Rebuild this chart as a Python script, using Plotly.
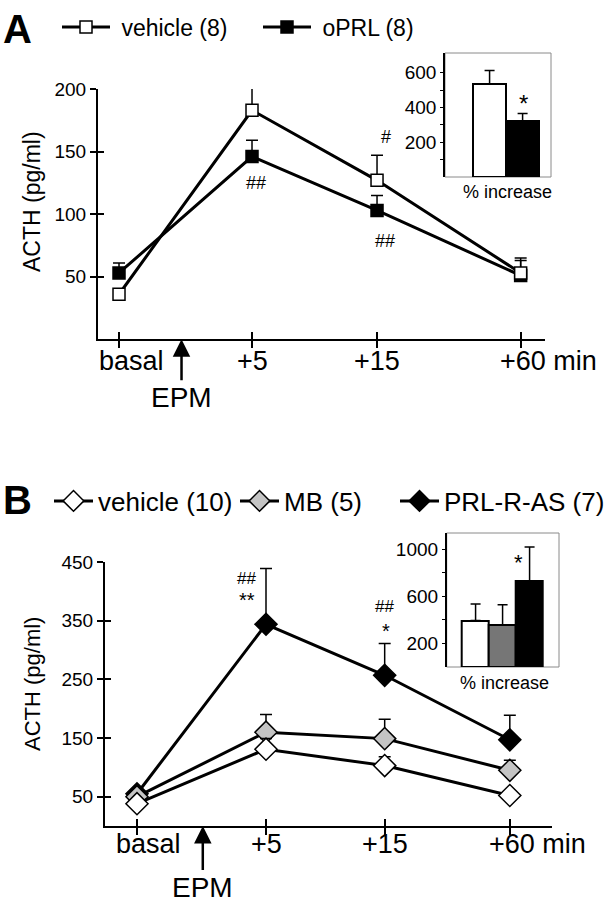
import plotly.graph_objects as go

W, H = 606, 899
FONT = "Liberation Sans, Arial, sans-serif"

# ---------------- data ----------------
time_labels = ["basal", "+5", "+15", "+60 min"]

# Panel A
a_time_pos = [0, 1, 1.94, 3.02]
a_vehicle = [36, 183, 127, 53]
a_vehicle_se = [4, 26, 20, 12]
a_oprl = [53, 146, 103, 51]
a_oprl_se = [8, 13, 12, 12]
a_pct_groups = ["vehicle", "oPRL"]
a_pct = [535, 320]
a_pct_se = [78, 45]

# Panel B
b_time_pos = [0, 1, 1.92, 2.89]
b_vehicle = [38, 131, 103, 52]
b_vehicle_se = [4, 18, 15, 5]
b_mb = [50, 160, 149, 95]
b_mb_se = [5, 30, 33, 17]
b_as = [55, 344, 257, 147]
b_as_se = [6, 95, 54, 42]
b_pct_groups = ["vehicle", "MB", "PRL-R-AS"]
b_pct = [395, 355, 730]
b_pct_se = [140, 175, 290]

MB_MARK = "#c4c4c4"
MB_BAR = "#767676"
NB = "\u00a0"


def px_x(p):
    return p / W


def px_y(p):
    return 1 - p / H


fig = go.Figure()


def err(se, w=6):
    return dict(type="data", array=se, arrayminus=[0] * len(se), symmetric=False,
                color="black", thickness=1.5, width=w)


def line_trace(x, y, se, name, symbol, fill, size, xa, ya, legend):
    return go.Scatter(
        x=x, y=y, name=name, mode="lines+markers",
        line=dict(color="black", width=3),
        marker=dict(symbol=symbol, size=size, color=fill, line=dict(color="black", width=1.5)),
        error_y=err(se), xaxis=xa, yaxis=ya, legend=legend, showlegend=True,
        cliponaxis=False,
    )


# Panel A main
fig.add_trace(line_trace(a_time_pos, a_oprl, a_oprl_se, NB + "oPRL (8)", "square", "black", 12, "x", "y", "legend2"))
fig.add_trace(line_trace(a_time_pos, a_vehicle, a_vehicle_se, NB + "vehicle (8)", "square", "white", 12, "x", "y", "legend"))

# Panel B main
fig.add_trace(line_trace(b_time_pos, b_as, b_as_se, "PRL-R-AS (7)", "diamond", "black", 17, "x2", "y2", "legend5"))
fig.add_trace(line_trace(b_time_pos, b_mb, b_mb_se, "MB (5)", "diamond", MB_MARK, 17, "x2", "y2", "legend4"))
fig.add_trace(line_trace(b_time_pos, b_vehicle, b_vehicle_se, "vehicle (10)", "diamond", "white", 17, "x2", "y2", "legend3"))

# Insets
fig.add_trace(go.Bar(x=a_pct_groups, y=a_pct, marker=dict(color=["white", "black"], line=dict(color="black", width=2)),
                     error_y=err(a_pct_se, 5), width=1, xaxis="x3", yaxis="y3", showlegend=False))
fig.add_trace(go.Bar(x=b_pct_groups, y=b_pct, marker=dict(color=["white", MB_BAR, "black"], line=dict(color="black", width=2)),
                     error_y=err(b_pct_se, 5), width=1, xaxis="x4", yaxis="y4", showlegend=False))

# empty traces for overlay (crossing ticks) axes
fig.add_trace(go.Scatter(x=[], y=[], xaxis="x5", yaxis="y5", showlegend=False))
fig.add_trace(go.Scatter(x=[], y=[], xaxis="x6", yaxis="y6", showlegend=False))

axis_common = dict(showgrid=False, zeroline=False, color="black",
                   tickfont=dict(family=FONT, size=19, color="black"))

a_xrange = [-0.158, 3.203]
b_xrange = [-0.248, 3.217]
a_yrange = [0, 200]
b_yrange = [0, 450]

a_xdom = [px_x(98), px_x(545)]
a_ydom = [px_y(339.3), px_y(89)]
b_xdom = [px_x(105), px_x(552)]
b_ydom = [px_y(826), px_y(562.1)]

fig.update_layout(
    width=W, height=H, margin=dict(l=0, r=0, t=0, b=0, autoexpand=False),
    paper_bgcolor="white", plot_bgcolor="rgba(0,0,0,0)",
    font=dict(family=FONT, color="black"),
    barmode="group", bargap=0,
    xaxis=dict(domain=a_xdom, range=a_xrange, anchor="y", showline=True, linewidth=2, linecolor="black",
               tickvals=a_time_pos, ticks="outside", ticklen=7, tickwidth=1.5, showticklabels=False, **axis_common),
    yaxis=dict(domain=a_ydom, range=a_yrange, anchor="x", showline=True, linewidth=2, linecolor="black",
               tickvals=[50, 100, 150, 200], ticks="outside", ticklen=6, tickwidth=1.5, **axis_common),
    xaxis2=dict(domain=b_xdom, range=b_xrange, anchor="y2", showline=True, linewidth=2, linecolor="black",
                tickvals=b_time_pos, ticks="outside", ticklen=7, tickwidth=1.5, showticklabels=False, **axis_common),
    yaxis2=dict(domain=b_ydom, range=b_yrange, anchor="x2", showline=True, linewidth=2, linecolor="black",
                tickvals=[50, 150, 250, 350, 450], ticks="outside", ticklen=6, tickwidth=1.5, **axis_common),
    # crossing-tick overlays
    xaxis5=dict(overlaying="x", anchor="y5", range=a_xrange, tickvals=a_time_pos, ticks="inside", ticklen=7,
                tickwidth=1.5, showticklabels=False, showline=False, showgrid=False, zeroline=False, tickcolor="black"),
    yaxis5=dict(overlaying="y", anchor="x5", range=a_yrange, tickvals=[50, 100, 150, 200], ticks="inside", ticklen=6,
                tickwidth=1.5, showticklabels=False, showline=False, showgrid=False, zeroline=False, tickcolor="black"),
    xaxis6=dict(overlaying="x2", anchor="y6", range=b_xrange, tickvals=b_time_pos, ticks="inside", ticklen=7,
                tickwidth=1.5, showticklabels=False, showline=False, showgrid=False, zeroline=False, tickcolor="black"),
    yaxis6=dict(overlaying="y2", anchor="x6", range=b_yrange, tickvals=[50, 150, 250, 350, 450], ticks="inside", ticklen=6,
                tickwidth=1.5, showticklabels=False, showline=False, showgrid=False, zeroline=False, tickcolor="black"),
    # insets
    xaxis3=dict(domain=[px_x(445), px_x(551)], range=[-1.35, 1.86], anchor="y3", showticklabels=False,
                showline=False, ticks="", showgrid=False, zeroline=False),
    yaxis3=dict(domain=[px_y(177), px_y(53)], range=[0, 713], anchor="x3", showline=True, linewidth=1.5,
                linecolor="black", tickvals=[200, 400, 600], ticks="outside", ticklen=3, tickwidth=1,
                minor=dict(tickvals=[100, 300, 500], ticks="outside", ticklen=3, tickwidth=1, tickcolor="black"),
                **axis_common),
    xaxis4=dict(domain=[px_x(446.7), px_x(559)], range=[-1.07, 3.09], anchor="y4", showticklabels=False,
                showline=False, ticks="", showgrid=False, zeroline=False),
    yaxis4=dict(domain=[px_y(667), px_y(533)], range=[0, 1140], anchor="x4", showline=True, linewidth=1.5,
                linecolor="black", tickvals=[200, 600, 1000], ticks="outside", ticklen=3, tickwidth=1,
                minor=dict(tickvals=[400, 800], ticks="outside", ticklen=3, tickwidth=1, tickcolor="black"),
                **axis_common),
)


def leg(xpx, ypx, size, itemw):
    return dict(x=px_x(xpx), y=px_y(ypx), xanchor="left", yanchor="middle", orientation="h",
                bgcolor="rgba(0,0,0,0)", borderwidth=0, itemwidth=itemw,
                font=dict(family=FONT, size=size, color="black"))


fig.update_layout(
    legend=leg(57, 27, 23, 48),
    legend2=leg(258, 27, 23, 48),
    legend3=leg(49, 501, 26, 39),
    legend4=leg(235, 501, 26, 39),
    legend5=leg(395, 501, 26, 39),
)

# inset frames
for xa in ["x3", "x4"]:
    fig.add_shape(type="rect", xref=f"{xa} domain", yref=f"y{xa[1:]} domain", x0=0, x1=1, y0=0, y1=1,
                  line=dict(color="#8a8a8a", width=1), fillcolor="rgba(0,0,0,0)", layer="below")

ann = []


def text(x, y, s, size, xref="paper", yref="paper", **kw):
    d = dict(x=x, y=y, xref=xref, yref=yref, text=s, showarrow=False, xanchor="center", yanchor="middle",
             font=dict(family=FONT, size=size, color="black"))
    d.update(kw)
    ann.append(d)


# panel letters
text(px_x(17), px_y(29), "<b>A</b>", 40)
text(px_x(17), px_y(500), "<b>B</b>", 40)

# y titles
text(px_x(32), px_y(202), "ACTH (pg/ml)", 23, textangle=-90)
text(px_x(32), px_y(684), "ACTH (pg/ml)", 22, textangle=-90)

# x labels
for xa, ya, pos, dy in [("x", "y", a_time_pos, -22), ("x2", "y2", b_time_pos, -18)]:
    for i, lab in enumerate(time_labels):
        if lab == "basal":
            text(pos[i], 0, lab, 27, xref=xa, yref=ya, xshift=12, yshift=dy)
        elif lab.endswith("min"):
            text(pos[i], 0, lab, 27, xref=xa, yref=ya, xanchor="left", xshift=-23, yshift=dy)
        else:
            text(pos[i], 0, lab, 27, xref=xa, yref=ya, yshift=dy)

# EPM arrows
for xa, ya, xpos, ay in [("x", "y", 0.47, 58), ("x2", "y2", 0.51, 61)]:
    ann.append(dict(x=xpos, y=0, xref=xa, yref=ya, text="EPM", showarrow=True, ax=0, ay=ay,
                    arrowhead=2, arrowsize=1.4, arrowwidth=2.5, arrowcolor="black", standoff=0,
                    font=dict(family=FONT, size=28, color="black")))

# significance marks panel A
text(1.01, 223, "##", 18, xref="x", yref="y")
text(1.03, 125, "##", 18, xref="x", yref="y")
text(2.01, 161.6, "#", 18, xref="x", yref="y")
text(2.0, 78.5, "##", 18, xref="x", yref="y")
# panel B
text(0.85, 422, "##", 17, xref="x2", yref="y2")
text(0.85, 386, "**", 20, xref="x2", yref="y2")
text(1.92, 374, "##", 17, xref="x2", yref="y2")
text(1.93, 332, "*", 20, xref="x2", yref="y2")

# inset labels
text(px_x(507), px_y(192), "% increase", 18)
text(px_x(504), px_y(683), "% increase", 18)
text(px_x(523), px_y(103), "*", 24)
text(px_x(518), px_y(562), "*", 22)

fig.update_layout(annotations=ann)

fig.write_html("out.html", config={"displayModeBar": False},
               post_script="document.body.style.margin='0';document.body.style.padding='0';")
